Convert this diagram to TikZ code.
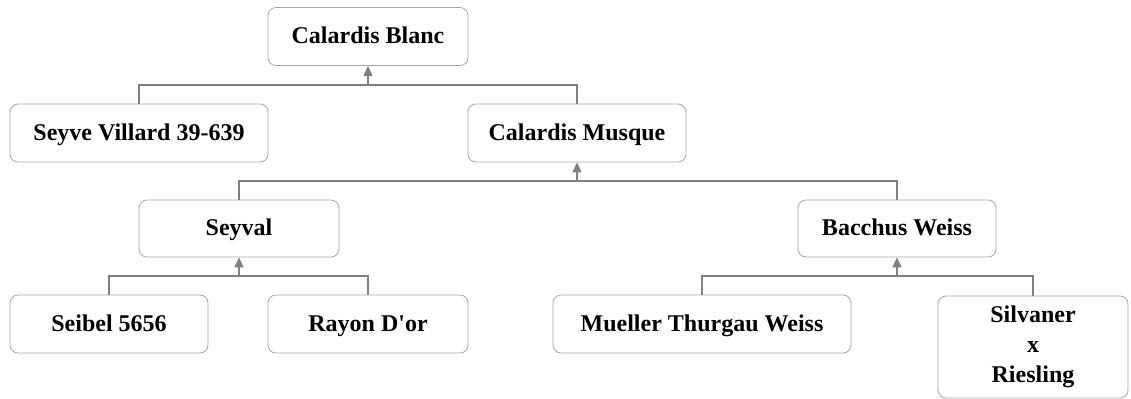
\documentclass[tikz,border=0pt]{standalone}
\usepackage{fontspec}
\setmainfont{Liberation Serif}
\usepackage{tikz}
\usetikzlibrary{arrows.meta}

\begin{document}
\begin{tikzpicture}[x=0.5pt, y=-0.5pt, every node/.style={font=\fontsize{12}{15}\selectfont\bfseries},
	box/.style={draw=black!35, rounded corners=4pt, align=center, minimum height=29pt, inner sep=2pt},
	vine/.style={box, text height=1.9ex, text depth=0.3ex},
	link/.style={draw=black!50, line width=0.6pt}, >={Triangle[length=5pt, width=4.5pt]}]
	\useasboundingbox (0,0) rectangle (1131,398);
	\node[vine, minimum width=100pt] (blanc) at (368,36.5) {Calardis Blanc};
	\node[vine, minimum width=129pt] (seyve) at (139,133) {Seyve Villard 39-639};
	\node[vine, minimum width=109pt] (musque) at (577,133) {Calardis Musque};
	\node[vine, minimum width=100pt, minimum height=28.5pt] (seyval) at (239,228.5) {Seyval};
	\node[vine, minimum width=99pt, minimum height=28.5pt] (bacchus) at (897,228.5) {Bacchus Weiss};
	\node[vine, minimum width=99pt] (seibel) at (109,324) {Seibel 5656};
	\node[vine, minimum width=100pt] (rayon) at (368,324) {Rayon D\textquotesingle or};
	\node[vine, minimum width=149pt] (mueller) at (702,324) {Mueller Thurgau Weiss};
	\node[box, minimum width=95pt, minimum height=51pt] (silvaner) at (1033,347) {Silvaner\\x\\Riesling};
	\coordinate (j1) at (blanc.south |- 0,85);
	\coordinate (j2) at (musque.south |- 0,181);
	\coordinate (j3) at (seyval.south |- 0,276);
	\coordinate (j4) at (bacchus.south |- 0,276);
	\draw[link] (seyve.north) |- (j1) -| (musque.north);
	\draw[link] (seyval.north) |- (j2) -| (bacchus.north);
	\draw[link] (seibel.north) |- (j3) -| (rayon.north);
	\draw[link] (mueller.north) |- (j4) -| (silvaner.north);
	\draw[link, ->, black!50] (j1) -- (blanc.south);
	\draw[link, ->, black!50] (j2) -- (musque.south);
	\draw[link, ->, black!50] (j3) -- (seyval.south);
	\draw[link, ->, black!50] (j4) -- (bacchus.south);
\end{tikzpicture}
\end{document}
